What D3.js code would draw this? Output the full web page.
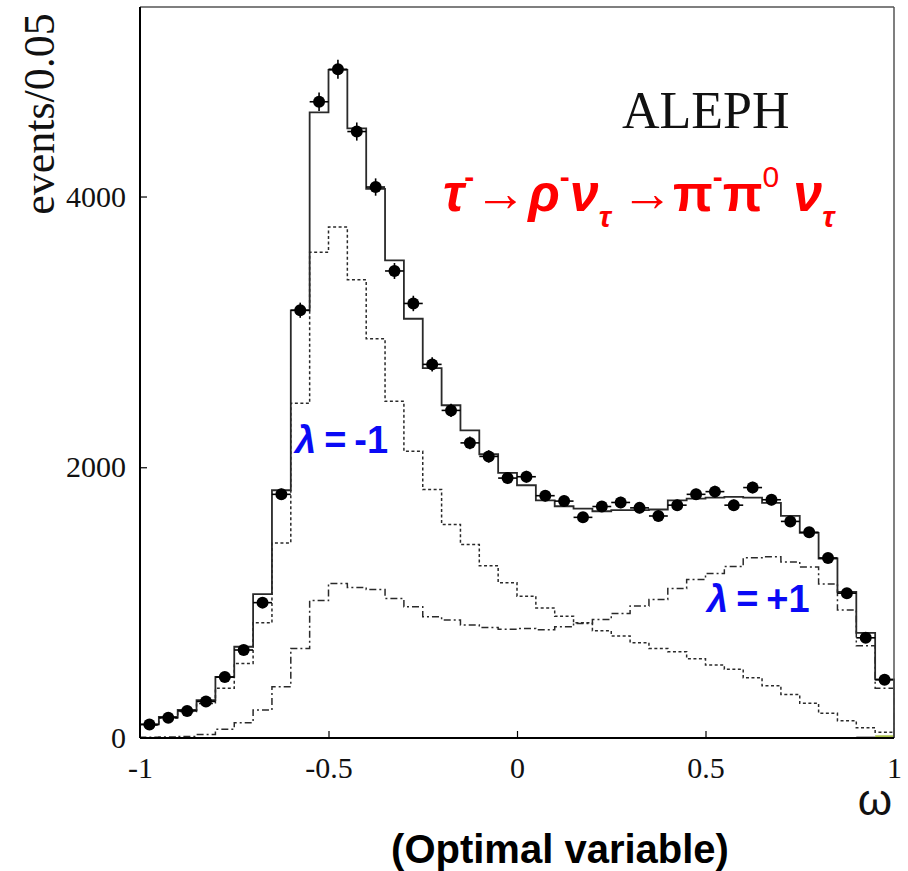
<!DOCTYPE html>
<html>
<head>
  <title>ALEPH tau -> rho nu optimal variable</title>
  <style>
    body { margin: 0; background: white; }
    .tick line { stroke: black; stroke-width: 1.2; }
    .tick text { font-family: "Liberation Serif", "Times New Roman", serif; font-size: 30px; fill: #111; }
    .hist { fill: none; }
  </style>
  <script src="https://d3js.org/d3.v7.min.js"></script>
</head>
<body>
  <div id="chart"></div>
  <script>
    // 40 bins of width 0.05 between -1 and 1
    const binLow = d3.range(40).map(i => -1 + i * 0.05);

    // data points (events per bin) and their errors
    const dataValues = [100, 150, 200, 270, 450, 650, 1000, 1800, 3160, 4700,
      4940, 4480, 4070, 3450, 3210, 2760, 2420, 2180, 2080, 1920,
      1930, 1790, 1750, 1630, 1710, 1740, 1700, 1640, 1720, 1800,
      1820, 1720, 1850, 1760, 1600, 1520, 1330, 1070, 740, 430];
    const dataErrors = [10, 12, 14, 16, 21, 25, 32, 42, 56, 69,
      70, 67, 64, 59, 57, 53, 49, 47, 46, 44,
      44, 42, 42, 40, 41, 42, 41, 40, 41, 42,
      43, 41, 43, 42, 40, 39, 36, 33, 27, 21];

    // full prediction (solid)
    const totalValues = [100, 155, 207, 280, 452, 674, 1063, 1830, 3159, 4622,
      4935, 4504, 4057, 3528, 3097, 2733, 2458, 2273, 2096, 1958,
      1867, 1756, 1712, 1695, 1675, 1683, 1683, 1688, 1756, 1769,
      1776, 1781, 1776, 1737, 1641, 1515, 1326, 1080, 777, 433];

    // helicity -1 component (dotted)
    const minusValues = [95, 147, 195, 255, 367, 551, 851, 1441, 2472, 3589,
      3774, 3385, 2950, 2487, 2118, 1835, 1577, 1429, 1273, 1147,
      1048, 960, 900, 851, 792, 753, 704, 662, 637, 585,
      539, 507, 445, 386, 322, 256, 182, 128, 76, 42];

    // helicity +1 component (dash-dot)
    const plusValues = [5, 8, 12, 25, 64, 113, 207, 379, 662, 1015,
      1142, 1112, 1097, 1031, 969, 895, 871, 834, 817, 804,
      809, 800, 821, 846, 876, 920, 976, 1023, 1104, 1171,
      1215, 1266, 1331, 1338, 1301, 1264, 1137, 945, 681, 367];

    // small background in the last bins
    const bgValues = [0, 0, 0, 0, 0, 0, 0, 0, 0, 0,
      0, 0, 0, 0, 0, 0, 0, 0, 0, 0,
      0, 0, 0, 0, 0, 0, 0, 0, 0, 0,
      0, 0, 0, 0, 0, 0, 0, 0, 10, 20];

    const xTicks = [-1, -0.5, 0, 0.5, 1];
    const yTicks = [0, 2000, 4000];

    const width = 908;
    const height = 871;
    const margin = { top: 7, right: 14, bottom: 133, left: 140 };
    const innerW = width - margin.left - margin.right;
    const innerH = height - margin.top - margin.bottom;

    const svg = d3.select("#chart")
      .append("svg")
      .attr("width", width)
      .attr("height", height)
      .style("background", "white");

    const g = svg.append("g")
      .attr("transform", `translate(${margin.left},${margin.top})`);

    const x = d3.scaleLinear().domain([-1, 1]).range([0, innerW]);
    const y = d3.scaleLinear().domain([0, 5400]).range([innerH, 0]);

    // step outline of a histogram
    const stepLine = d3.line()
      .x(d => x(d[0]))
      .y(d => y(d[1]))
      .curve(d3.curveStepAfter);

    function histPoints(values) {
      const pts = [[-1, 0]];
      values.forEach((v, i) => pts.push([binLow[i], v]));
      pts.push([1, values[values.length - 1]]);
      pts.push([1, 0]);
      return pts;
    }

    // background fill
    g.append("g")
      .selectAll("rect")
      .data(bgValues.map((v, i) => ({ lo: binLow[i], v })).filter(d => d.v > 0))
      .enter()
      .append("rect")
      .attr("x", d => x(d.lo))
      .attr("y", d => y(d.v))
      .attr("width", x(0.05) - x(0))
      .attr("height", d => y(0) - y(d.v))
      .attr("fill", (d, i) => i == 0 ? "#222" : "#a9c04a");

    g.append("path")
      .attr("class", "hist")
      .attr("d", stepLine(histPoints(minusValues)))
      .attr("stroke", "#2a2a2a")
      .attr("stroke-width", 1.5)
      .attr("stroke-dasharray", "3,2.5");

    g.append("path")
      .attr("class", "hist")
      .attr("d", stepLine(histPoints(plusValues)))
      .attr("stroke", "#2a2a2a")
      .attr("stroke-width", 1.5)
      .attr("stroke-dasharray", "7,3,2,3");

    g.append("path")
      .attr("class", "hist")
      .attr("d", stepLine(histPoints(totalValues)))
      .attr("stroke", "#2a2a2a")
      .attr("stroke-width", 1.8);

    // data points with error bars
    const half = 0.025;
    const pts = g.append("g")
      .selectAll("g")
      .data(dataValues.map((v, i) => ({ c: binLow[i] + half, v, e: dataErrors[i] })))
      .enter()
      .append("g");

    pts.append("line")
      .attr("x1", d => x(d.c - half))
      .attr("x2", d => x(d.c + half))
      .attr("y1", d => y(d.v))
      .attr("y2", d => y(d.v))
      .attr("stroke", "black")
      .attr("stroke-width", 1.6);

    pts.append("line")
      .attr("x1", d => x(d.c))
      .attr("x2", d => x(d.c))
      .attr("y1", d => y(d.v - d.e))
      .attr("y2", d => y(d.v + d.e))
      .attr("stroke", "black")
      .attr("stroke-width", 1.6);

    pts.append("circle")
      .attr("cx", d => x(d.c))
      .attr("cy", d => y(d.v))
      .attr("r", 6)
      .attr("fill", "black");

    // axes, ticks pointing inwards
    g.append("g")
      .attr("transform", `translate(0,${innerH})`)
      .call(d3.axisBottom(x).tickValues(xTicks).tickSize(-7).tickPadding(19)
        .tickFormat(d => String(d)))
      .call(a => a.select(".domain").remove())
      .call(a => a.selectAll(".tick line").filter(d => d == -1 || d == 1).remove());

    g.append("g")
      .call(d3.axisLeft(y).tickValues(yTicks).tickSize(-7).tickPadding(14)
        .tickFormat(d3.format("d")))
      .call(a => a.select(".domain").remove())
      .call(a => a.selectAll(".tick line").filter(d => d == 0).remove());

    // frame
    g.append("line").attr("x1", 0).attr("x2", innerW).attr("y1", 0).attr("y2", 0)
      .attr("stroke", "#555").attr("stroke-width", 1.5);
    g.append("line").attr("x1", innerW).attr("x2", innerW).attr("y1", 0).attr("y2", innerH)
      .attr("stroke", "#555").attr("stroke-width", 1.5);
    g.append("line").attr("x1", 0).attr("x2", 0).attr("y1", 0).attr("y2", innerH)
      .attr("stroke", "black").attr("stroke-width", 2);
    g.append("line").attr("x1", 0).attr("x2", innerW).attr("y1", innerH).attr("y2", innerH)
      .attr("stroke", "black").attr("stroke-width", 2);

    // y title
    svg.append("text")
      .attr("transform", "translate(54,114) rotate(-90)")
      .attr("text-anchor", "middle")
      .style("font-family", "'Liberation Serif', 'Times New Roman', serif")
      .style("font-size", "44px")
      .attr("fill", "#111")
      .text("events/0.05");

    // omega
    svg.append("text")
      .attr("x", 875)
      .attr("y", 815)
      .attr("text-anchor", "middle")
      .style("font-family", "'Liberation Sans', Arial, sans-serif")
      .style("font-size", "44px")
      .attr("fill", "#111")
      .text("ω");

    svg.append("text")
      .attr("x", 560)
      .attr("y", 863)
      .attr("text-anchor", "middle")
      .style("font-family", "'Liberation Sans', Arial, sans-serif")
      .style("font-size", "40px")
      .style("font-weight", "bold")
      .attr("fill", "black")
      .text("(Optimal variable)");

    svg.append("text")
      .attr("x", 622)
      .attr("y", 128)
      .style("font-family", "'Liberation Serif', 'Times New Roman', serif")
      .style("font-size", "52px")
      .attr("fill", "#111")
      .text("ALEPH");

    // decay formula in red
    const formula = svg.append("text")
      .attr("x", 443)
      .attr("y", 211)
      .attr("fill", "#ff0000")
      .style("font-family", "'Liberation Sans', Arial, sans-serif")
      .style("font-size", "52px")
      .style("font-weight", "bold");

    const parts = [
      { t: "τ", italic: true },
      { t: "-", sup: true },
      { t: "→", normal: true },
      { t: "ρ", italic: true, gap: 2 },
      { t: "-", sup: true },
      { t: "ν", italic: true },
      { t: "τ", sub: true, italic: true },
      { t: "→", normal: true, gap: 10 },
      { t: "π" },
      { t: "-", sup: true },
      { t: "π" },
      { t: "0", sup: true, normal: true },
      { t: "ν", italic: true, gap: 14 },
      { t: "τ", sub: true, italic: true }
    ];
    let shift = 0;
    parts.forEach(p => {
      const target = p.sup ? -24 : p.sub ? 16 : 0;
      const ts = formula.append("tspan")
        .attr("dy", target - shift)
        .text(p.t);
      if (p.gap) ts.attr("dx", p.gap);
      if (p.sup || p.sub) ts.style("font-size", "30px");
      if (p.italic) ts.style("font-style", "italic");
      if (p.normal) ts.style("font-weight", "normal");
      shift = target;
    });

    // helicity labels
    const lambdaLabels = [
      { x: 295, y: 453, s: "-1" },
      { x: 707, y: 612, s: "+1" }
    ];
    lambdaLabels.forEach(l => {
      const t = svg.append("text")
        .attr("x", l.x)
        .attr("y", l.y)
        .attr("fill", "#0a0af5")
        .style("font-family", "'Liberation Sans', Arial, sans-serif")
        .style("font-size", "38px")
        .style("font-weight", "bold");
      t.append("tspan").style("font-style", "italic").text("λ");
      t.append("tspan").attr("dx", 8).text("=");
      t.append("tspan").attr("dx", 8).text(l.s);
    });
  </script>
</body>
</html>
